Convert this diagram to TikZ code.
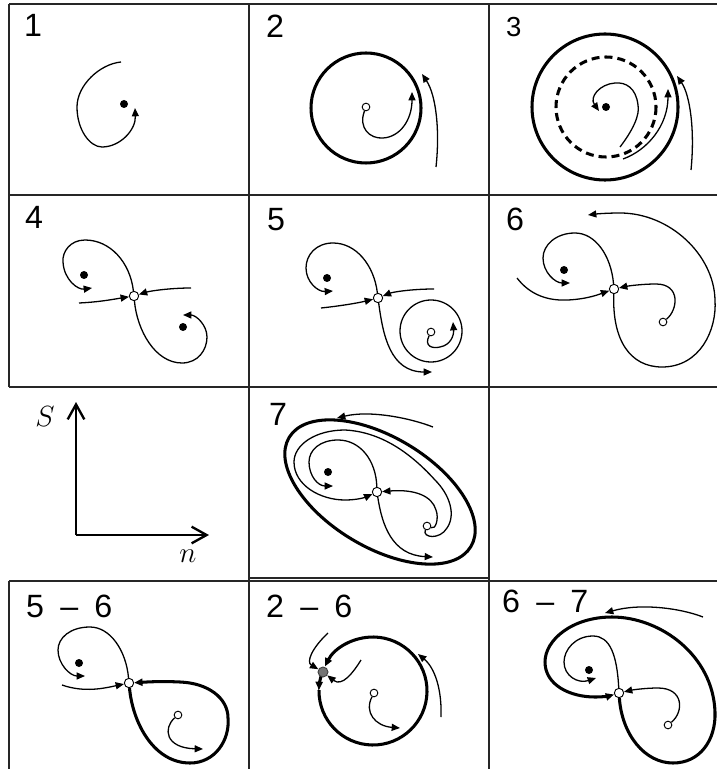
\documentclass[tikz,border=0pt]{standalone}
\usepackage{fontspec}
\setmainfont{Liberation Sans}
\usepackage{amsmath}
\usetikzlibrary{arrows.meta}

\begin{document}
\begin{tikzpicture}[
  x=0.03cm, y=-0.03cm,
  >={Triangle[length=2.5mm,width=2.1mm]},
  frame/.style={line width=1.1pt, black!85},
  traj/.style={line width=1.1pt},
  limcyc/.style={line width=2.6pt},
  sink/.style={circle, fill=black, inner sep=0pt, minimum size=2.4mm},
  source/.style={circle, draw, fill=white, line width=0.8pt, inner sep=0pt, minimum size=2.3mm},
  saddle/.style={source, minimum size=2.8mm},
  snode/.style={circle, draw=black!75, fill=black!55, line width=0.8pt, inner sep=0pt, minimum size=3mm},
  panelno/.style={anchor=base west, inner sep=0pt, font=\fontsize{27.5}{27.5}\selectfont},
  axis/.style={line width=2pt, -{Straight Barb[length=4.5mm,width=5mm]}},
  axlabel/.style={font=\fontsize{31}{31}\selectfont}
]
\useasboundingbox (0,0) rectangle (717,769);

% ---------- frames ----------
\draw[frame] (9,4) -- (717,4);
\draw[frame] (9,195) -- (717,195);
\draw[frame] (9,387) -- (717,387);
\draw[frame] (249,578) -- (489,578);
\draw[frame] (9,581) -- (717,581);
\draw[frame] (9,4) -- (9,387);
\draw[frame] (9,581) -- (9,769);
\draw[frame] (249,4) -- (249,769);
\draw[frame] (489,4) -- (489,769);

% ---------- Row 1 ----------
\node[panelno] (n1) at (24,37) {1};
\node[sink] (f1) at (124,104) {};
\draw[traj,->] (121,62) .. controls (100,64) and (77,85) .. (77,107)
  .. controls (77,130) and (90,147) .. (102,147)
  .. controls (120,147) and (136,130) .. (135,108);

\node[panelno] (n2) at (266,38) {2};
\draw[limcyc] (366,108) circle[radius=55];
\node[source] (u2) at (366,107) {};
\draw[traj,->] (u2) .. controls (358,128) and (370,139) .. (383,138)
  .. controls (400,137) and (412,120) .. (412,92);
\draw[traj,->] (436,167) .. controls (440,130) and (436,95) .. (422,74);

\node[panelno, font=\fontsize{23.5}{23.5}\selectfont] (n3) at (506,37) {3};
\draw[limcyc] (605,107) circle[radius=73];
\draw[limcyc, dash pattern=on 2.4mm off 1.5mm] (606,107) circle[radius=50];
\node[sink] (f3) at (606,107) {};
\draw[traj,->] (620,147) .. controls (633,130) and (640,115) .. (638,105)
  .. controls (636,88) and (626,82) .. (615,83)
  .. controls (600,84) and (589,97) .. (599,111);
\draw[traj,->] (623,159) .. controls (648,150) and (668,125) .. (668,89);
\draw[traj,->] (691,170) .. controls (695,130) and (690,95) .. (677,76);

% ---------- Row 2 ----------
\node[panelno] (n4) at (25,229) {4};
\node[saddle] (s4) at (134,296) {};
\node[sink] (f4a) at (84,275) {};
\node[sink] (f4b) at (183,327) {};
\draw[traj,->] (s4) .. controls (130,262) and (110,240) .. (85,240)
  .. controls (70,240) and (62,252) .. (63,262)
  .. controls (64,280) and (78,290) .. (92,288);
\draw[traj,->] (79,303) .. controls (100,302) and (115,299) .. (s4);
\draw[traj,->] (191,288) .. controls (170,288) and (150,291) .. (s4);
\draw[traj,->] (s4) .. controls (137,330) and (155,363) .. (182,363)
  .. controls (198,363) and (207,350) .. (207,337)
  .. controls (207,325) and (196,315) .. (183,315);

\node[panelno] (n5) at (267,231) {5};
\node[saddle] (s5) at (378,298) {};
\node[sink] (f5) at (327,278) {};
\draw[traj,->] (s5) .. controls (374,265) and (356,243) .. (333,243)
  .. controls (316,243) and (306,255) .. (306,268)
  .. controls (306,282) and (318,292) .. (333,291);
\draw[traj,->] (321,308) .. controls (340,306) and (358,303) .. (s5);
\draw[traj,->] (434,289) .. controls (412,289) and (393,292) .. (s5);
\draw[traj,->] (s5) .. controls (383,335) and (390,372) .. (432,372);
\draw[traj] (431,331) circle[radius=31];
\node[source] (u5) at (431,332) {};
\draw[traj,->] (u5) .. controls (424,346) and (432,349) .. (440,347)
  .. controls (451,345) and (454,335) .. (453,322);

\node[panelno] (n6) at (506,231) {6};
\node[saddle] (s6) at (614,289) {};
\node[sink] (f6) at (564,270) {};
\node[source] (u6) at (663,322) {};
\draw[traj,->] (s6) .. controls (611,255) and (595,233) .. (575,233)
  .. controls (556,233) and (543,245) .. (543,258)
  .. controls (543,272) and (555,283) .. (570,283);
\draw[traj,->] (517,278) .. controls (530,295) and (548,301) .. (568,300)
  .. controls (588,299) and (600,294) .. (s6);
\draw[traj,->] (u6) .. controls (678,310) and (681,284) .. (656,284)
  .. controls (642,284) and (628,286) .. (s6);
\draw[traj,->] (s6) .. controls (612,340) and (630,367) .. (662,367)
  .. controls (700,367) and (717,330) .. (715,300)
  .. controls (714,255) and (670,213) .. (620,213)
  .. controls (606,213) and (596,214) .. (588,215);

% ---------- Row 3 ----------
\coordinate (o) at (76,535);
\coordinate (ytip) at (76,402);
\coordinate (xtip) at (209,535);
\draw[axis] (o) -- (ytip);
\draw[axis] (o) -- (xtip);
\node[axlabel] (S) at (45,417) {$S$};
\node[axlabel] (nn) at (188,556) {$n$};

\node[panelno] (n7) at (269,425) {7};
\draw[limcyc, rotate around={-31:(380,492)}] (380,492) ellipse[x radius=106, y radius=55];
\node[saddle] (s7) at (377,492) {};
\node[sink] (f7) at (328,472) {};
\node[source] (u7) at (427,526) {};
\draw[traj,->] (s7) .. controls (376,460) and (360,440) .. (338,440)
  .. controls (320,440) and (309,450) .. (309,462)
  .. controls (309,476) and (318,486) .. (333,486);
\draw[traj,->] (u7) .. controls (422,538) and (440,540) .. (447,528)
  .. controls (456,515) and (450,495) .. (435,480)
  .. controls (415,458) and (385,432) .. (345,430)
  .. controls (315,430) and (294,445) .. (294,462)
  .. controls (294,485) and (320,500) .. (345,500)
  .. controls (358,500) and (366,497) .. (s7);
\draw[traj,->] (u7) .. controls (436,530) and (439,518) .. (436,510)
  .. controls (432,496) and (415,489) .. (s7);
\draw[traj,->] (s7) .. controls (382,525) and (392,555) .. (433,557);
\draw[traj,->] (433,427) .. controls (410,418) and (370,410) .. (337,418);

% ---------- Row 4 ----------
\node[panelno] (n56) at (26,617) {5\enspace--\enspace6};
\node[saddle] (s56) at (129,683) {};
\node[sink] (f56) at (79,663) {};
\node[source] (u56) at (178,715) {};
\draw[traj,->] (s56) .. controls (126,650) and (110,627) .. (90,627)
  .. controls (70,627) and (58,638) .. (58,650)
  .. controls (58,664) and (70,676) .. (85,676);
\draw[traj,->] (62,685) .. controls (85,693) and (105,688) .. (s56);
\draw[limcyc,->] (s56) .. controls (133,725) and (155,763) .. (190,763)
  .. controls (215,763) and (230,740) .. (228,718)
  .. controls (228,698) and (208,683) .. (180,682)
  .. controls (160,681) and (147,682) .. (s56);
\draw[traj,->] (u56) .. controls (163,728) and (165,748) .. (203,749);

\node[panelno] (n26) at (266,617) {2\enspace--\enspace6};
\coordinate (c26) at (373,691);
\draw[limcyc,->] (c26) ++(196:54) arc[start angle=196, end angle=181, radius=54];
\draw[limcyc,->] (c26) ++(181:54) arc[start angle=181, end angle=-153, radius=54];
\node[snode] (sn26) at (323,672) {};
\node[source] (u26) at (374,693) {};
\draw[traj,->] (328,633) .. controls (312,648) and (306,662) .. (sn26);
\draw[traj,->] (361,660) .. controls (353,673) and (342,687) .. (sn26);
\draw[traj,->] (u26) .. controls (364,712) and (375,726) .. (400,728);
\draw[traj,->] (441,717) .. controls (442,690) and (435,668) .. (418,654);

\node[panelno] (n67) at (502,612) {6\enspace--\enspace7};
\node[saddle] (s67) at (619,693) {};
\node[sink] (f67) at (589,670) {};
\node[source] (u67) at (668,725) {};
\draw[traj,->] (s67) .. controls (617,655) and (610,636) .. (593,636)
  .. controls (575,636) and (564,650) .. (564,662)
  .. controls (564,676) and (578,684) .. (596,678);
\draw[limcyc,->] (s67) .. controls (622,735) and (645,763) .. (673,763)
  .. controls (700,763) and (716,740) .. (715,712)
  .. controls (713,655) and (660,617) .. (612,617)
  .. controls (572,617) and (545,640) .. (545,662)
  .. controls (545,685) and (570,697) .. (595,697)
  .. controls (603,697) and (609,696) .. (s67);
\draw[traj,->] (u67) .. controls (684,712) and (684,688) .. (658,688)
  .. controls (645,688) and (632,690) .. (s67);
\draw[traj,->] (703,617) .. controls (680,608) and (640,603) .. (605,613);

\end{tikzpicture}
\end{document}
